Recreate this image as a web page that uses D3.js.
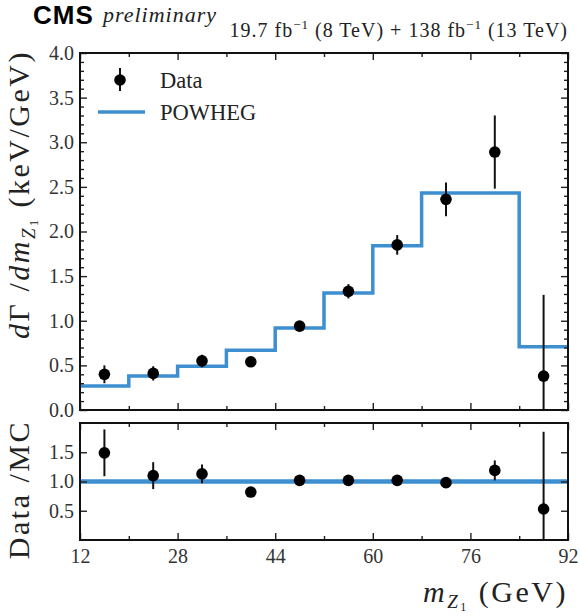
<!DOCTYPE html>
<html>
  <head>
    <meta charset="utf-8">
    <script src="https://d3js.org/d3.v7.min.js"></script>
    <style>
      body { margin: 0; background: #fff; }
      svg text { fill: #222; }
      .serif { font-family: "Liberation Serif", serif; }
      .axis .domain { display: none; }
      .axis .tick line { stroke: #222; stroke-width: 1.4px; }
    </style>
  </head>
  <body>
    <svg width="580" height="616"></svg>
    <script>
      // values
      const binEdges = [12, 20, 28, 36, 44, 52, 60, 68, 76, 84, 92];
      const binCenters = [16, 24, 32, 40, 48, 56, 64, 72, 80, 88];
      const dataValues = [0.40, 0.41, 0.55, 0.54, 0.94, 1.33, 1.85, 2.36, 2.89, 0.38];
      const dataErrors = [0.10, 0.08, 0.07, 0.04, 0.05, 0.08, 0.11, 0.19, 0.41, 0.91];
      const mcValues = [0.27, 0.38, 0.49, 0.67, 0.92, 1.31, 1.84, 2.43, 2.43, 0.71];
      const ratioValues = [1.49, 1.10, 1.13, 0.82, 1.02, 1.02, 1.02, 0.98, 1.19, 0.53];
      const ratioErrors = [0.40, 0.23, 0.16, 0.05, 0.05, 0.06, 0.06, 0.08, 0.17, 1.32];
      const mcRatio = [1, 1, 1, 1, 1, 1, 1, 1, 1, 1];
      const xMajorTicks = [12, 28, 44, 60, 76, 92];
      const xMinorTicks = [20, 36, 52, 68, 84];
      const yTopTicks = [0, 0.5, 1.0, 1.5, 2.0, 2.5, 3.0, 3.5, 4.0];
      const yRatioTicks = [0.5, 1.0, 1.5];

      const plotLeft = 80;
      const plotRight = 568;
      const topPanel = {top: 53, bottom: 410};
      const ratioPanel = {top: 423, bottom: 540};
      const mcColor = "#3d8fd0";
      const serifFont = "'Liberation Serif', serif";
      const majorLen = 7;
      const minorLen = 4;

      const svg = d3.select("svg");

      const xScale = d3.scaleLinear().domain([12, 92]).range([plotLeft, plotRight]);
      const yTop = d3.scaleLinear().domain([0, 4]).range([topPanel.bottom, topPanel.top]);
      const yRatio = d3.scaleLinear().domain([0, 2]).range([ratioPanel.bottom, ratioPanel.top]);

      const yTopMinor = d3.range(0, 40).map(i => i / 10).filter(v => !yTopTicks.includes(v));

      function styleLabels(sel){
        sel.selectAll("text")
          .style("font-family", serifFont)
          .style("font-size", "20px")
          .style("fill", "#333");
      }

      function drawFrame(panel, yScale, yMajor, yMinor, showX){
        const g = svg.append("g");
        // x ticks, bottom and top, pointing inwards
        [[d3.axisBottom, panel.bottom], [d3.axisTop, panel.top]].forEach(([axisFn, y]) => {
          g.append("g").attr("class", "axis")
            .attr("transform", `translate(0, ${y})`)
            .call(axisFn(xScale).tickValues(xMinorTicks).tickSize(-minorLen).tickFormat(""));
          g.append("g").attr("class", "axis")
            .attr("transform", `translate(0, ${y})`)
            .call(axisFn(xScale).tickValues(xMajorTicks).tickSize(-majorLen).tickFormat(""));
        });
        // y ticks, left and right
        [[d3.axisLeft, plotLeft], [d3.axisRight, plotRight]].forEach(([axisFn, x]) => {
          if (yMinor.length) {
            g.append("g").attr("class", "axis")
              .attr("transform", `translate(${x}, 0)`)
              .call(axisFn(yScale).tickValues(yMinor).tickSize(-minorLen).tickFormat(""));
          }
          g.append("g").attr("class", "axis")
            .attr("transform", `translate(${x}, 0)`)
            .call(axisFn(yScale).tickValues(yMajor).tickSize(-majorLen)
              .tickPadding(6)
              .tickFormat(axisFn === d3.axisLeft ? d3.format(".1f") : ""))
            .call(styleLabels);
        });
        if (showX) {
          g.append("g").attr("class", "axis")
            .attr("transform", `translate(0, ${panel.bottom})`)
            .call(d3.axisBottom(xScale).tickValues(xMajorTicks).tickSize(0).tickPadding(9))
            .call(styleLabels)
            .selectAll("text").attr("dy", "0.71em");
        }
        g.append("rect")
          .attr("x", plotLeft)
          .attr("y", panel.top)
          .attr("width", plotRight - plotLeft)
          .attr("height", panel.bottom - panel.top)
          .attr("fill", "none")
          .attr("stroke", "#111")
          .attr("stroke-width", 2);
        return g;
      }

      function stepPoints(values){
        const pts = values.map((v, i) => [binEdges[i], v]);
        pts.push([binEdges[binEdges.length - 1], values[values.length - 1]]);
        return pts;
      }

      function drawHist(values, yScale, width){
        const line = d3.line()
          .x(d => xScale(d[0]))
          .y(d => yScale(d[1]))
          .curve(d3.curveStepAfter);
        svg.append("path")
          .datum(stepPoints(values))
          .attr("d", line)
          .attr("fill", "none")
          .attr("stroke", mcColor)
          .attr("stroke-width", width);
      }

      function drawPoints(values, errors, yScale){
        const g = svg.append("g");
        const lo = yScale.domain()[0];
        const hi = yScale.domain()[1];
        g.selectAll("line").data(values).enter().append("line")
          .attr("x1", (d, i) => xScale(binCenters[i]))
          .attr("x2", (d, i) => xScale(binCenters[i]))
          .attr("y1", (d, i) => yScale(Math.max(lo, d - errors[i])))
          .attr("y2", (d, i) => yScale(Math.min(hi, d + errors[i])))
          .attr("stroke", "#111")
          .attr("stroke-width", 2);
        g.selectAll("circle").data(values).enter().append("circle")
          .attr("cx", (d, i) => xScale(binCenters[i]))
          .attr("cy", d => yScale(d))
          .attr("r", 5.8)
          .attr("fill", "#000");
      }

      // panels
      drawHist(mcValues, yTop, 3.5);
      drawPoints(dataValues, dataErrors, yTop);
      drawFrame(topPanel, yTop, yTopTicks, yTopMinor, false);

      drawHist(mcRatio, yRatio, 4.5);
      drawPoints(ratioValues, ratioErrors, yRatio);
      drawFrame(ratioPanel, yRatio, yRatioTicks, [], true);

      // legend
      const legend = svg.append("g").attr("class", "serif").style("font-size", "22.5px");
      legend.append("line")
        .attr("x1", 120).attr("x2", 120).attr("y1", 68).attr("y2", 91)
        .attr("stroke", "#111").attr("stroke-width", 2);
      legend.append("circle").attr("cx", 120).attr("cy", 80).attr("r", 5.8).attr("fill", "#000");
      legend.append("text").attr("x", 160).attr("y", 88).text("Data");
      legend.append("line")
        .attr("x1", 98).attr("x2", 145).attr("y1", 112).attr("y2", 112)
        .attr("stroke", mcColor).attr("stroke-width", 3.5);
      legend.append("text").attr("x", 160).attr("y", 120).text("POWHEG");

      // header
      svg.append("text")
        .attr("x", 33).attr("y", 24)
        .style("font-family", "'Liberation Sans', Arial, sans-serif")
        .style("font-weight", "bold")
        .style("font-size", "26px")
        .style("letter-spacing", "1px")
        .style("fill", "#000")
        .text("CMS");
      svg.append("text")
        .attr("x", 103).attr("y", 22)
        .attr("class", "serif")
        .style("font-style", "italic")
        .style("font-size", "22px")
        .style("letter-spacing", "1px")
        .text("preliminary");

      const lumi = svg.append("text")
        .attr("x", plotRight).attr("y", 37)
        .attr("text-anchor", "end")
        .attr("class", "serif")
        .style("font-size", "20px")
        .style("letter-spacing", "1px");
      lumi.append("tspan").text("19.7 fb");
      lumi.append("tspan").attr("dy", -8).style("font-size", "13px").text("\u22121");
      lumi.append("tspan").attr("dy", 8).text(" (8 TeV) + 138 fb");
      lumi.append("tspan").attr("dy", -8).style("font-size", "13px").text("\u22121");
      lumi.append("tspan").attr("dy", 8).text(" (13 TeV)");

      // axis labels
      const yLabel = svg.append("text")
        .attr("transform", `translate(29, ${topPanel.top - 3}) rotate(-90)`)
        .attr("text-anchor", "end")
        .attr("class", "serif")
        .style("font-size", "30px")
        .style("letter-spacing", "2.5px");
      yLabel.append("tspan").style("font-style", "italic").text("d");
      yLabel.append("tspan").text("\u0393 /");
      yLabel.append("tspan").style("font-style", "italic").text("dm");
      yLabel.append("tspan").attr("dy", 6).style("font-style", "italic").style("font-size", "19px").text("Z");
      yLabel.append("tspan").attr("dy", 3).style("font-size", "12px").text("1");
      yLabel.append("tspan").attr("dy", -9).text(" (keV/GeV)");

      svg.append("text")
        .attr("transform", `translate(29, ${ratioPanel.top - 3}) rotate(-90)`)
        .attr("text-anchor", "end")
        .attr("class", "serif")
        .style("font-size", "30px")
        .style("letter-spacing", "2.5px")
        .text("Data /MC");

      const xLabel = svg.append("text")
        .attr("x", plotRight).attr("y", 602)
        .attr("text-anchor", "end")
        .attr("class", "serif")
        .style("font-size", "30px")
        .style("letter-spacing", "2.5px");
      xLabel.append("tspan").style("font-style", "italic").text("m");
      xLabel.append("tspan").attr("dy", 6).style("font-style", "italic").style("font-size", "19px").text("Z");
      xLabel.append("tspan").attr("dy", 3).style("font-size", "12px").text("1");
      xLabel.append("tspan").attr("dy", -9).text(" (GeV)");
    </script>
  </body>
</html>
